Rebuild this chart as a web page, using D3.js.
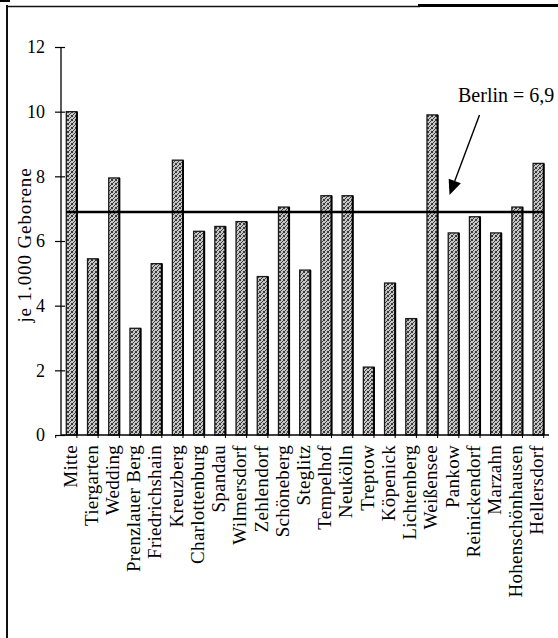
<!DOCTYPE html>
<html>
<head>
<meta charset="utf-8">
<script src="https://cdn.jsdelivr.net/npm/d3@7"></script>
<style>
  html, body { margin: 0; padding: 0; background: #fff; }
  svg { display: block; }
  text { font-family: "Liberation Serif", "Times New Roman", serif; fill: #000; }
</style>
</head>
<body>
<svg id="chart" width="558" height="638"></svg>
<script>
// Bezirke and rate per 1.000 births
const categories = ["Mitte", "Tiergarten", "Wedding", "Prenzlauer Berg", "Friedrichshain",
  "Kreuzberg", "Charlottenburg", "Spandau", "Wilmersdorf", "Zehlendorf", "Schöneberg",
  "Steglitz", "Tempelhof", "Neukölln", "Treptow", "Köpenick", "Lichtenberg", "Weißensee",
  "Pankow", "Reinickendorf", "Marzahn", "Hohenschönhausen", "Hellersdorf"];
const values = [10.0, 5.45, 7.95, 3.3, 5.3, 8.5, 6.3, 6.45, 6.6, 4.9, 7.05,
  5.1, 7.4, 7.4, 2.1, 4.7, 3.6, 9.9, 6.25, 6.75, 6.25, 7.05, 8.4];
const yTicks = [0, 2, 4, 6, 8, 10, 12];
const berlinValue = 6.9;
const berlinLabel = "Berlin = 6,9";
const yTitle = "je 1.000 Geborene";

const svg = d3.select("#chart");

// stippled grey fill for the bars
const defs = svg.append("defs");
const pat = defs.append("pattern")
  .attr("id", "stipple").attr("patternUnits", "userSpaceOnUse")
  .attr("width", 4).attr("height", 4);
pat.append("rect").attr("width", 4).attr("height", 4).attr("fill", "#c6c6c6");
pat.append("path")
  .attr("d", "M0,0h1v1h-1z M2,1h1v1h-1z M1,2h1v1h-1z M3,3h1v1h-1z M3,0h1v1h-1z M0,3h1v1h-1z")
  .attr("fill", "#3a3a3a");

// frame
svg.append("line").attr("x1", 7).attr("x2", 7).attr("y1", 5).attr("y2", 638)
  .attr("stroke", "#111").attr("stroke-width", 2);
svg.append("line").attr("x1", 6).attr("x2", 420).attr("y1", 6.5).attr("y2", 6.5)
  .attr("stroke", "#111").attr("stroke-width", 1.6);
svg.append("line").attr("x1", 418).attr("x2", 558).attr("y1", 5.5).attr("y2", 5.5)
  .attr("stroke", "#000").attr("stroke-width", 3);
svg.append("line").attr("x1", 0).attr("x2", 10).attr("y1", 1).attr("y2", 1)
  .attr("stroke", "#000").attr("stroke-width", 2);

const x = d3.scaleBand().domain(categories).range([61, 549])
  .paddingInner(0.5).paddingOuter(0.25);
const y = d3.scaleLinear().domain([0, 12]).range([435, 47]);

// y axis
const yAxis = svg.append("g").attr("transform", "translate(61,0)")
  .call(d3.axisLeft(y).tickValues(yTicks).tickSize(6).tickPadding(10).tickFormat(d3.format("d")));
yAxis.select(".domain").attr("stroke", "#000").attr("stroke-width", 1.3).attr("d", "M0," + y(12) + "V" + y(0));
yAxis.selectAll(".tick line").attr("stroke", "#000").attr("stroke-width", 1.2).attr("x2", 4).attr("x1", -6);
yAxis.selectAll(".tick text")
  .style("font-family", "'Liberation Serif', serif").style("font-size", "18px").attr("fill", "#000");

// y title
svg.append("text")
  .attr("transform", "translate(31,245) rotate(-90)")
  .attr("text-anchor", "middle")
  .style("font-size", "19px").style("letter-spacing", "0.9px")
  .text(yTitle);

// bars
const bars = svg.append("g");
bars.selectAll("rect").data(values).join("rect")
  .attr("x", (d, i) => x(categories[i]))
  .attr("y", d => y(d))
  .attr("width", x.bandwidth())
  .attr("height", d => y(0) - y(d))
  .attr("fill", "url(#stipple)")
  .attr("stroke", "#1a1a1a").attr("stroke-width", 1.3);
// darker right-hand edge of each bar
bars.selectAll("line").data(values).join("line")
  .attr("x1", (d, i) => x(categories[i]) + x.bandwidth())
  .attr("x2", (d, i) => x(categories[i]) + x.bandwidth())
  .attr("y1", d => y(d)).attr("y2", y(0))
  .attr("stroke", "#000").attr("stroke-width", 2);

// x axis
const xAxis = svg.append("g").attr("transform", "translate(0,435)");
xAxis.append("line").attr("x1", 61).attr("x2", 549).attr("y1", 0).attr("y2", 0)
  .attr("stroke", "#000").attr("stroke-width", 1.3);
const step = x.step();
xAxis.selectAll("line.tk").data(d3.range(categories.length + 1)).join("line")
  .attr("class", "tk")
  .attr("x1", i => x(categories[0]) - step * 0.5 + i * step)
  .attr("x2", i => x(categories[0]) - step * 0.5 + i * step)
  .attr("y1", 0).attr("y2", 3).attr("stroke", "#000").attr("stroke-width", 1);
xAxis.selectAll("text").data(categories).join("text")
  .attr("transform", d => `translate(${x(d) + x.bandwidth() / 2 + 5},10) rotate(-90)`)
  .attr("text-anchor", "end")
  .style("font-size", "19px").style("letter-spacing", "0.3px")
  .text(d => d);

// Berlin average line
svg.append("line")
  .attr("x1", x(categories[0])).attr("x2", x(categories[categories.length - 1]) + x.bandwidth())
  .attr("y1", y(berlinValue)).attr("y2", y(berlinValue))
  .attr("stroke", "#000").attr("stroke-width", 2.5);

// annotation with arrow
svg.append("text").attr("x", 458).attr("y", 102)
  .style("font-size", "20px").text(berlinLabel);
const tip = [449.5, 195];
const start = [479.5, 115];
const ang = Math.atan2(tip[1] - start[1], tip[0] - start[0]);
const headLen = 15, headW = 6.5;
const bx = tip[0] - headLen * Math.cos(ang), by = tip[1] - headLen * Math.sin(ang);
svg.append("line").attr("x1", start[0]).attr("y1", start[1]).attr("x2", bx).attr("y2", by)
  .attr("stroke", "#000").attr("stroke-width", 1.4);
svg.append("path")
  .attr("d", `M${tip[0]},${tip[1]} L${bx - headW * Math.sin(ang)},${by + headW * Math.cos(ang)} L${bx + headW * Math.sin(ang)},${by - headW * Math.cos(ang)} Z`)
  .attr("fill", "#000");
</script>
</body>
</html>
